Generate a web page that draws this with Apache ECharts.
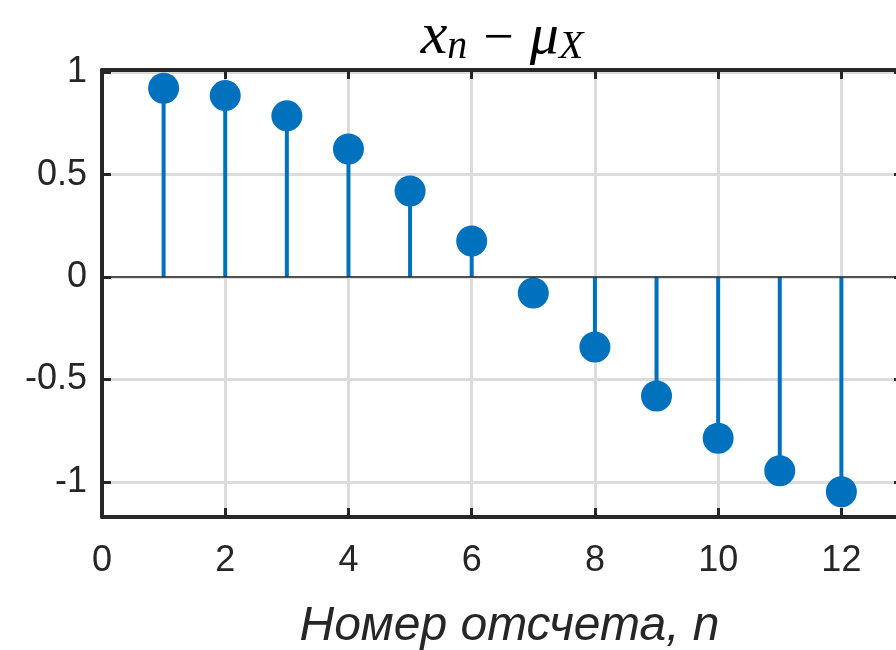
<!DOCTYPE html>
<html>
<head>
<meta charset="utf-8">
<script src="https://cdn.jsdelivr.net/npm/echarts@6/dist/echarts.min.js"></script>
<style>
  html, body { margin: 0; padding: 0; background: #fff; }
  #stemChart { width: 896px; height: 650px; }
</style>
</head>
<body>
<div id="stemChart"></div>
<script>
// номер отсчета и значения x_n - mu_X
var sampleNums = [1, 2, 3, 4, 5, 6, 7, 8, 9, 10, 11, 12];
var centeredVals = [0.922, 0.886, 0.787, 0.625, 0.420, 0.176, -0.078, -0.342, -0.581, -0.787, -0.946, -1.049];
var xTicks = [0, 2, 4, 6, 8, 10, 12];
var yTicks = [-1, -0.5, 0, 0.5, 1];

var axisColor = '#262626';
var stemColor = '#0072BD';
var gridColor = '#dcdcdc';

var stemChart;

function boxAxis(type, pos, ticks, showLabels) {
    return {
        type: 'value',
        position: pos,
        min: type === 'x' ? 0 : -1.172,
        max: type === 'x' ? 13 : 1.011,
        axisLine: { show: true, onZero: false, lineStyle: { color: axisColor, width: 4 } },
        axisTick: { show: true, inside: true, length: 9, customValues: ticks, lineStyle: { color: axisColor, width: 3 } },
        splitLine: { show: showLabels, lineStyle: { color: gridColor, width: 3 } },
        axisLabel: {
            show: showLabels,
            customValues: ticks,
            color: axisColor,
            fontSize: 36,
            fontFamily: 'Liberation Sans, Arial, sans-serif',
            margin: type === 'x' ? 26 : 15
        }
    };
}

function stemOption() {
    var xBottom = boxAxis('x', 'bottom', xTicks, true);
    xBottom.name = 'Номер отсчета, n';
    xBottom.nameLocation = 'middle';
    xBottom.nameGap = 86;
    xBottom.nameTextStyle = {
        color: axisColor,
        fontSize: 48,
        fontStyle: 'italic',
        fontFamily: 'Liberation Sans, Arial, sans-serif',
        padding: [0, 0, 0, 14]
    };
    var data = sampleNums.map(function (n, i) { return [n, centeredVals[i]]; });
    var serif = 'Liberation Serif, serif';
    return {
        animation: false,
        backgroundColor: '#fff',
        title: {
            text: '{x|x}{sub|n}{op|−}{mu|μ}{sub|X}',
            left: 497,
            textAlign: 'center',
            top: 0,
            textStyle: {
                fontWeight: 'normal',
                rich: {
                    x: { fontSize: 60, fontStyle: 'italic', fontWeight: 'normal', fontFamily: serif, color: '#000', verticalAlign: 'bottom', lineHeight: 62 },
                    mu: { fontSize: 58, fontStyle: 'italic', fontWeight: 'normal', fontFamily: serif, color: '#000', verticalAlign: 'bottom', lineHeight: 62 },
                    op: { fontSize: 54, fontWeight: 'normal', fontFamily: serif, color: '#000', verticalAlign: 'bottom', lineHeight: 62, padding: [0, 16, 0, 16] },
                    sub: { fontSize: 40, fontStyle: 'italic', fontWeight: 'normal', fontFamily: serif, color: '#000', verticalAlign: 'bottom', lineHeight: 38 }
                }
            }
        },
        grid: { left: 102, top: 70, width: 801, bottom: 133, containLabel: false, outerBoundsMode: 'none' },
        xAxis: [xBottom, boxAxis('x', 'top', xTicks, false)],
        yAxis: [boxAxis('y', 'left', yTicks, true), boxAxis('y', 'right', yTicks, false)],
        series: [
            {
                type: 'bar',
                barWidth: 4,
                itemStyle: { color: stemColor },
                data: data,
                z: 3,
                markLine: {
                    silent: true,
                    symbol: 'none',
                    label: { show: false },
                    lineStyle: { color: '#262626', width: 1.5, type: 'solid' },
                    data: [{ yAxis: 0 }]
                }
            },
            {
                type: 'scatter',
                symbol: 'circle',
                symbolSize: 31,
                itemStyle: { color: stemColor, opacity: 1 },
                data: data,
                z: 4
            }
        ]
    };
}

stemChart = echarts.init(document.getElementById('stemChart'), null, { renderer: 'canvas' });
stemChart.setOption(stemOption());
</script>
</body>
</html>
